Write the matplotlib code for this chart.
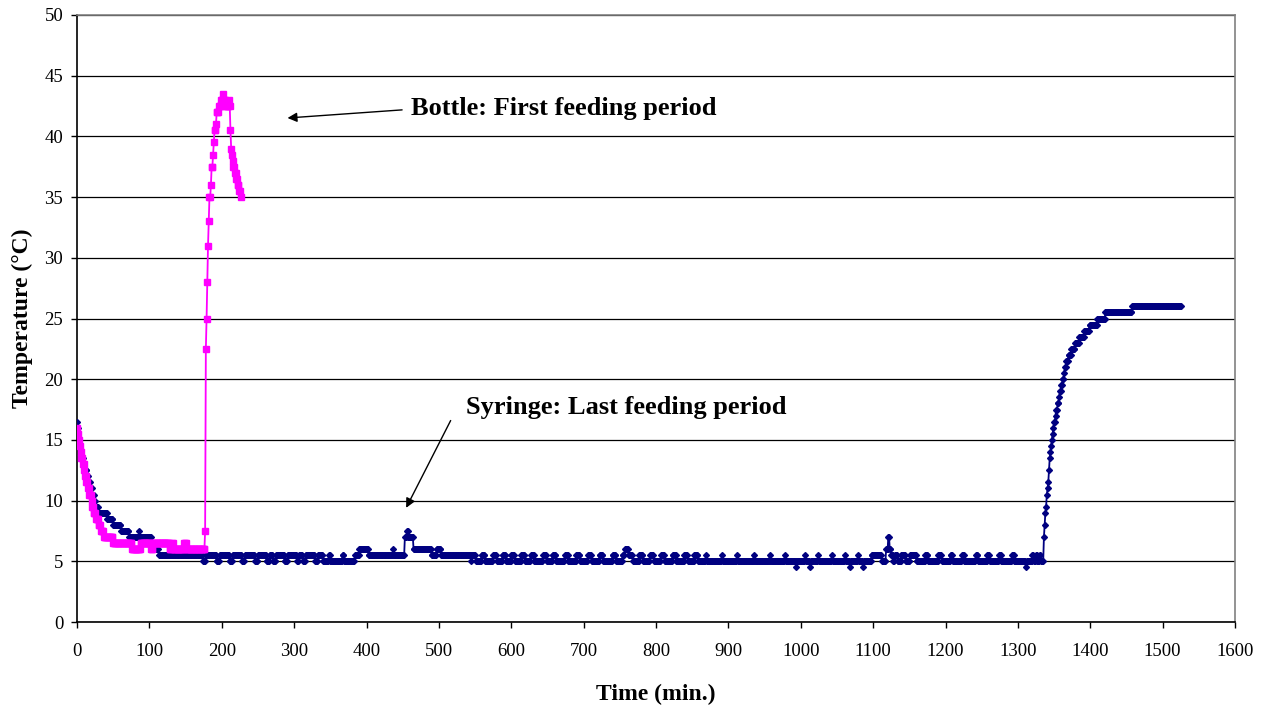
import numpy as np
import matplotlib
matplotlib.use("Agg")
import matplotlib.pyplot as plt

# ---- Data (step change points: time [min], temperature [degC]) ----
syr_t = [0, 1, 2, 3, 4, 5, 7, 9, 11, 14, 16, 19, 21, 24, 26, 30, 42, 50, 61, 72, 86, 87,
         103, 108, 113,
         174, 178, 193, 197, 211, 215, 228, 232, 246, 250, 262, 266, 271, 275, 287, 291,
         304, 307, 312, 316, 329, 333, 340, 348, 350, 367, 369,
         384, 390, 403, 437, 438, 453, 456, 458, 465, 490, 497, 503, 545,
         546, 551, 559, 564, 575, 580, 588, 593, 600, 605, 614, 619, 627, 632, 644, 649,
         657, 662, 674, 679, 690, 695, 706, 711, 722, 727, 740, 745,
         754, 757, 762, 768,
         777, 782, 792, 797, 807, 812, 823, 828, 839, 844, 853, 858,
         869, 870, 891, 892, 912, 913, 935, 936, 957, 958, 978, 979,
         994, 995, 1006, 1007, 1013, 1014, 1024, 1025, 1043, 1044, 1061, 1062,
         1068, 1069, 1079, 1080, 1086, 1087,
         1098, 1112, 1118, 1121, 1123, 1125, 1128,
         1130, 1134, 1139, 1145, 1151, 1160, 1172, 1176, 1190, 1195, 1207, 1210,
         1223, 1226, 1242, 1245, 1258, 1261, 1274, 1277, 1292, 1295, 1311, 1312,
         1320, 1322, 1325, 1327, 1330, 1332,
         1336, 1337, 1338, 1339, 1340, 1341, 1342, 1343, 1344, 1345, 1346, 1347,
         1348, 1349, 1350, 1352, 1353, 1355, 1357, 1358, 1360, 1362, 1364, 1365,
         1367, 1370, 1374, 1379, 1385, 1392, 1399, 1410, 1421, 1458]
syr_v = [16.5, 16.0, 15.5, 15.0, 14.5, 14.0, 13.5, 13.0, 12.5, 12.0, 11.5, 11.0, 10.5, 10.0,
         9.5, 9.0, 8.5, 8.0, 7.5, 7.0, 7.5, 7.0,
         6.5, 6.0, 5.5,
         5.0, 5.5, 5.0, 5.5, 5.0, 5.5, 5.0, 5.5, 5.0, 5.5, 5.0, 5.5, 5.0, 5.5, 5.0, 5.5,
         5.0, 5.5, 5.0, 5.5, 5.0, 5.5, 5.0, 5.5, 5.0, 5.5, 5.0,
         5.5, 6.0, 5.5, 6.0, 5.5, 7.0, 7.5, 7.0, 6.0, 5.5, 6.0, 5.5, 5.0,
         5.5, 5.0, 5.5, 5.0, 5.5, 5.0, 5.5, 5.0, 5.5, 5.0, 5.5, 5.0, 5.5, 5.0, 5.5, 5.0,
         5.5, 5.0, 5.5, 5.0, 5.5, 5.0, 5.5, 5.0, 5.5, 5.0, 5.5, 5.0,
         5.5, 6.0, 5.5, 5.0,
         5.5, 5.0, 5.5, 5.0, 5.5, 5.0, 5.5, 5.0, 5.5, 5.0, 5.5, 5.0,
         5.5, 5.0, 5.5, 5.0, 5.5, 5.0, 5.5, 5.0, 5.5, 5.0, 5.5, 5.0,
         4.5, 5.0, 5.5, 5.0, 4.5, 5.0, 5.5, 5.0, 5.5, 5.0, 5.5, 5.0,
         4.5, 5.0, 5.5, 5.0, 4.5, 5.0,
         5.5, 5.0, 6.0, 7.0, 6.0, 5.5, 5.0,
         5.5, 5.0, 5.5, 5.0, 5.5, 5.0, 5.5, 5.0, 5.5, 5.0, 5.5, 5.0,
         5.5, 5.0, 5.5, 5.0, 5.5, 5.0, 5.5, 5.0, 5.5, 5.0, 4.5, 5.0,
         5.5, 5.0, 5.5, 5.0, 5.5, 5.0,
         7.0, 8.0, 9.0, 9.5, 10.5, 11.0, 11.5, 12.5, 13.5, 14.0, 14.5, 15.0,
         15.5, 16.0, 16.5, 17.0, 17.5, 18.0, 18.5, 19.0, 19.5, 20.0, 20.5, 21.0,
         21.5, 22.0, 22.5, 23.0, 23.5, 24.0, 24.5, 25.0, 25.5, 26.0]
syr_end = 1525

bot_t = [0, 1, 2, 4, 5, 6, 8, 10, 11, 13, 15, 17, 20, 21, 23, 26, 30, 33, 37, 50, 76, 88,
         102, 105, 128, 131, 133, 148, 151,
         177, 178, 179, 180, 181, 182, 183, 185, 186, 188, 189, 190, 192, 193, 196, 199,
         202, 203, 205, 210, 211, 212, 213, 214, 215, 216, 218, 220, 222, 224, 226]
bot_v = [16.0, 15.5, 15.0, 14.5, 14.0, 13.5, 13.0, 12.5, 12.0, 11.5, 11.0, 10.5, 10.0, 9.5,
         9.0, 8.5, 8.0, 7.5, 7.0, 6.5, 6.0, 6.5, 6.0, 6.5, 6.0, 6.5, 6.0, 6.5, 6.0,
         7.5, 22.5, 25.0, 28.0, 31.0, 33.0, 35.0, 36.0, 37.5, 38.5, 39.5, 40.5, 41.0, 42.0,
         42.5, 43.0, 43.5, 43.0, 42.5, 43.0, 42.5, 40.5, 39.0, 38.5, 38.0, 37.5, 37.0,
         36.5, 36.0, 35.5, 35.0]
bot_end = 226

x_ticks = list(range(0, 1601, 100))
y_ticks = list(range(0, 51, 5))


def hold(ct, cv, t_end):
    t = np.arange(0, t_end + 1)
    idx = np.searchsorted(np.asarray(ct), t, side="right") - 1
    return t, np.asarray(cv)[idx]


st, sv = hold(syr_t, syr_v, syr_end)
bt, bv = hold(bot_t, bot_v, bot_end)

plt.rcParams["font.family"] = ["Liberation Serif", "DejaVu Serif"]

fig = plt.figure(figsize=(12.69, 7.07), dpi=100)
ax = fig.add_axes([0.0607, 0.1202, 0.9125, 0.8586])

ax.plot(st, sv, color="#000080", lw=1.3, marker="D", markersize=3.0, zorder=3)
ax.plot(bt, bv, color="#FF00FF", lw=1.3, marker="s", markersize=3.8, zorder=4)

ax.set_xlim(0, 1600)
ax.set_ylim(0, 50)
ax.set_xticks(x_ticks)
ax.set_yticks(y_ticks)
ax.tick_params(axis="both", direction="out", length=4, width=1, labelsize=13.5)
ax.tick_params(axis="x", pad=11)
ax.tick_params(axis="y", pad=6)
ax.yaxis.grid(True, color="black", lw=0.9)
ax.set_axisbelow(True)
for s in ["left", "bottom"]:
    ax.spines[s].set_color("black")
    ax.spines[s].set_linewidth(1.2)
for s in ["top", "right"]:
    ax.spines[s].set_color("#808080")
    ax.spines[s].set_linewidth(1.2)

ax.set_xlabel("Time (min.)", fontsize=17, fontweight="bold", labelpad=17)
ax.set_ylabel("Temperature (\u00b0C)", fontsize=17, fontweight="bold", labelpad=8)

ax.annotate("", xy=(287, 41.5), xytext=(453, 42.2),
            arrowprops=dict(arrowstyle="-|>", color="black", lw=1, mutation_scale=14))
ax.text(461, 42.3, "Bottle: First feeding period", fontsize=19, fontweight="bold",
        va="center", ha="left")
ax.annotate("", xy=(453, 9.2), xytext=(518, 16.8),
            arrowprops=dict(arrowstyle="-|>", color="black", lw=1, mutation_scale=14))
ax.text(537, 17.7, "Syringe: Last feeding period", fontsize=19, fontweight="bold",
        va="center", ha="left")

fig.savefig("out.png", dpi=100)
